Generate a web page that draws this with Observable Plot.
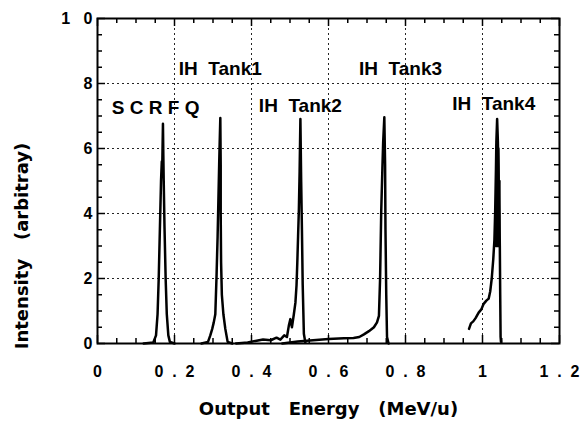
<!DOCTYPE html>
<html>
<head>
<meta charset="utf-8">
<script src="https://cdn.jsdelivr.net/npm/d3@7"></script>
<script src="https://cdn.jsdelivr.net/npm/@observablehq/plot@0.6"></script>
<style>
  html, body { margin: 0; padding: 0; background: #fff; }
  svg { font-family: "Liberation Sans", Arial, Helvetica, sans-serif; font-weight: bold; }
</style>
</head>
<body>
<div id="chart"></div>
<script>
// ---- tick values and labels ----
const xMajor = [0, 0.2, 0.4, 0.6, 0.8, 1.0, 1.2];
const xMajorLabels = ["0", "0\u00a0\u00a0.\u00a0\u00a02", "0\u00a0\u00a0.\u00a0\u00a04", "0\u00a0\u00a0.\u00a0\u00a06", "0\u00a0\u00a0.\u00a0\u00a08", "1", "1\u00a0\u00a0.\u00a0\u00a02"];
const xMinor = [0.05, 0.1, 0.15, 0.25, 0.3, 0.35, 0.45, 0.5, 0.55, 0.65, 0.7, 0.75, 0.85, 0.9, 0.95, 1.05, 1.1, 1.15];
const xGrid = [0.2, 0.4, 0.6, 0.8, 1.0];
const yMajor = [0, 2, 4, 6, 8, 10];
const yMajorLabels = ["0", "2", "4", "6", "8", "1\u00a0\u00a0\u00a00"];
const yMinor = [0.5, 1, 1.5, 2.5, 3, 3.5, 4.5, 5, 5.5, 6.5, 7, 7.5, 8.5, 9, 9.5];
const yGrid = [2, 4, 6, 8];

// ---- spectra ----
const scrfqEnergy    = [0.120, 0.145, 0.152, 0.156, 0.159, 0.162, 0.165, 0.167, 0.168, 0.170, 0.171, 0.172, 0.174, 0.177, 0.180, 0.184, 0.188, 0.200];
const scrfqIntensity = [0.00, 0.03, 0.25, 0.90, 2.00, 3.50, 5.00, 5.60, 5.30, 6.76, 5.80, 5.00, 3.60, 2.00, 0.90, 0.25, 0.05, 0.00];

const tank1Energy    = [0.270, 0.287, 0.293, 0.298, 0.302, 0.306, 0.309, 0.312, 0.314, 0.316, 0.317, 0.319, 0.320, 0.320, 0.321, 0.323, 0.327, 0.332, 0.338, 0.350];
const tank1Intensity = [0.00, 0.05, 0.25, 0.45, 0.65, 0.90, 2.00, 3.30, 4.40, 5.50, 6.00, 6.94, 5.50, 4.00, 2.50, 1.50, 0.90, 0.45, 0.05, 0.00];

const tank2Energy    = [0.360, 0.390, 0.410, 0.430, 0.450, 0.465, 0.475, 0.485, 0.492, 0.497, 0.501, 0.505, 0.510, 0.514, 0.517, 0.519, 0.521, 0.523, 0.525, 0.527, 0.529, 0.531, 0.533, 0.536, 0.540];
const tank2Intensity = [0.00, 0.03, 0.08, 0.12, 0.10, 0.18, 0.12, 0.25, 0.20, 0.55, 0.75, 0.50, 0.90, 1.25, 1.80, 2.50, 3.30, 4.10, 5.30, 6.91, 5.00, 3.50, 1.80, 0.30, 0.02];

const tank3Energy    = [0.480, 0.520, 0.560, 0.600, 0.640, 0.665, 0.680, 0.692, 0.705, 0.718, 0.726, 0.731, 0.734, 0.737, 0.740, 0.742, 0.745, 0.747, 0.748, 0.750, 0.752, 0.756];
const tank3Intensity = [0.00, 0.06, 0.10, 0.14, 0.16, 0.17, 0.20, 0.28, 0.38, 0.50, 0.65, 0.85, 2.00, 4.10, 5.40, 6.20, 6.96, 5.50, 3.50, 1.50, 0.20, 0.00];

const tank4Energy    = [0.965, 0.970, 0.976, 0.982, 0.990, 0.997, 1.003, 1.010, 1.016, 1.020, 1.024, 1.028, 1.031, 1.033, 1.035, 1.036, 1.038, 1.040, 1.042, 1.044, 1.045, 1.046, 1.047, 1.048];
const tank4Intensity = [0.45, 0.62, 0.68, 0.78, 0.95, 1.05, 1.22, 1.32, 1.38, 1.60, 2.00, 2.60, 3.20, 4.10, 5.40, 6.20, 6.91, 6.20, 5.00, 4.00, 3.00, 1.50, 0.20, 0.05];
const tank4bEnergy    = [1.035, 1.037, 1.039, 1.041, 1.043, 1.044];
const tank4bIntensity = [3.00, 6.10, 3.00, 6.00, 3.00, 5.00];

// ---- peak labels ----
const peakNames = ["S\u00a0C\u00a0R\u00a0F\u00a0Q", "IH\u00a0\u00a0Tank1", "IH\u00a0\u00a0Tank2", "IH\u00a0\u00a0Tank3", "IH\u00a0\u00a0Tank4"];
const peakLabelEnergy = [0.151, 0.319, 0.527, 0.787, 1.029];
const peakLabelIntensity = [7.26, 8.46, 7.32, 8.46, 7.38];

// ---- axis titles ----
const xTitle = "Output\u00a0\u00a0\u00a0Energy\u00a0\u00a0\u00a0(MeV/u)";
const yTitle = "Intensity\u00a0\u00a0\u00a0(arbitray)";
const yTitleCenter = 3.0; // vertical centre of the y title, in intensity units

// ---- build tables ----
const seriesDefs = [
  ["SCRFQ", scrfqEnergy, scrfqIntensity],
  ["Tank1", tank1Energy, tank1Intensity],
  ["Tank2", tank2Energy, tank2Intensity],
  ["Tank3", tank3Energy, tank3Intensity],
  ["Tank4", tank4Energy, tank4Intensity],
  ["Tank4b", tank4bEnergy, tank4bIntensity]
];
const spectra = seriesDefs.flatMap(([name, xs, ys]) => xs.map((x, i) => ({series: name, energy: x, intensity: ys[i]})));
const peaks = peakNames.map((n, i) => ({name: n, energy: peakLabelEnergy[i], intensity: peakLabelIntensity[i]}));

const W = 580, H = 423, mL = 97, mR = 21, mT = 18, mB = 80;
const innerW = W - mL - mR, innerH = H - mT - mB;
const titleFont = "'DejaVu Sans', 'Liberation Sans', sans-serif";

const chart = Plot.plot({
  width: W, height: H,
  marginLeft: mL, marginRight: mR, marginTop: mT, marginBottom: mB,
  x: {domain: [0, 1.2], axis: null},
  y: {domain: [0, 10], axis: null},
  marks: [
    Plot.ruleX(xGrid, {x: d => d, stroke: "#000", strokeWidth: 1, strokeDasharray: "2,3", strokeOpacity: 0.85}),
    Plot.ruleY(yGrid, {y: d => d, stroke: "#000", strokeWidth: 1, strokeDasharray: "2,3", strokeOpacity: 0.85}),
    Plot.tickX(xMinor, {x: d => d, insetTop: innerH - 5, strokeWidth: 1.5}),
    Plot.tickX(xMinor, {x: d => d, insetBottom: innerH - 5, strokeWidth: 1.5}),
    Plot.tickX(xMajor, {x: d => d, insetTop: innerH - 8, strokeWidth: 1.5}),
    Plot.tickX(xMajor, {x: d => d, insetBottom: innerH - 8, strokeWidth: 1.5}),
    Plot.tickY(yMinor, {y: d => d, insetRight: innerW - 5, strokeWidth: 1.5}),
    Plot.tickY(yMinor, {y: d => d, insetLeft: innerW - 5, strokeWidth: 1.5}),
    Plot.tickY(yMajor, {y: d => d, insetRight: innerW - 8, strokeWidth: 1.5}),
    Plot.tickY(yMajor, {y: d => d, insetLeft: innerW - 8, strokeWidth: 1.5}),
    Plot.line(spectra, {x: "energy", y: "intensity", z: "series", stroke: "#000", strokeWidth: 2.5, strokeLinejoin: "round"}),
    Plot.frame({stroke: "#000", strokeWidth: 2}),
    Plot.text(xMajor, {x: d => d, frameAnchor: "bottom", dy: 33, textAnchor: "middle", text: (d, i) => xMajorLabels[i], fontSize: 16, fontWeight: "bold", fill: "#000", ariaLabel: "xlabels"}),
    Plot.text(yMajor, {y: d => d, frameAnchor: "left", dx: -5, textAnchor: "end", text: (d, i) => yMajorLabels[i], fontSize: 16, fontWeight: "bold", fill: "#000", ariaLabel: "ylabels"}),
    Plot.text(peaks, {x: "energy", y: "intensity", text: "name", fontSize: 19, fontWeight: "bold", fill: "#000", ariaLabel: "peaklabels"}),
    Plot.text([xTitle], {frameAnchor: "bottom", dy: 71, textAnchor: "middle", text: d => d, fontSize: 18, fontWeight: "bold", fontFamily: titleFont, fill: "#000", ariaLabel: "xtitle"}),
    Plot.text([yTitle], {y: () => yTitleCenter, frameAnchor: "left", dx: -75, textAnchor: "middle", rotate: -90, text: d => d, fontSize: 18, fontWeight: "bold", fontFamily: titleFont, fill: "#000", ariaLabel: "ytitle"})
  ]
});
document.getElementById("chart").appendChild(chart);
</script>
</body>
</html>
